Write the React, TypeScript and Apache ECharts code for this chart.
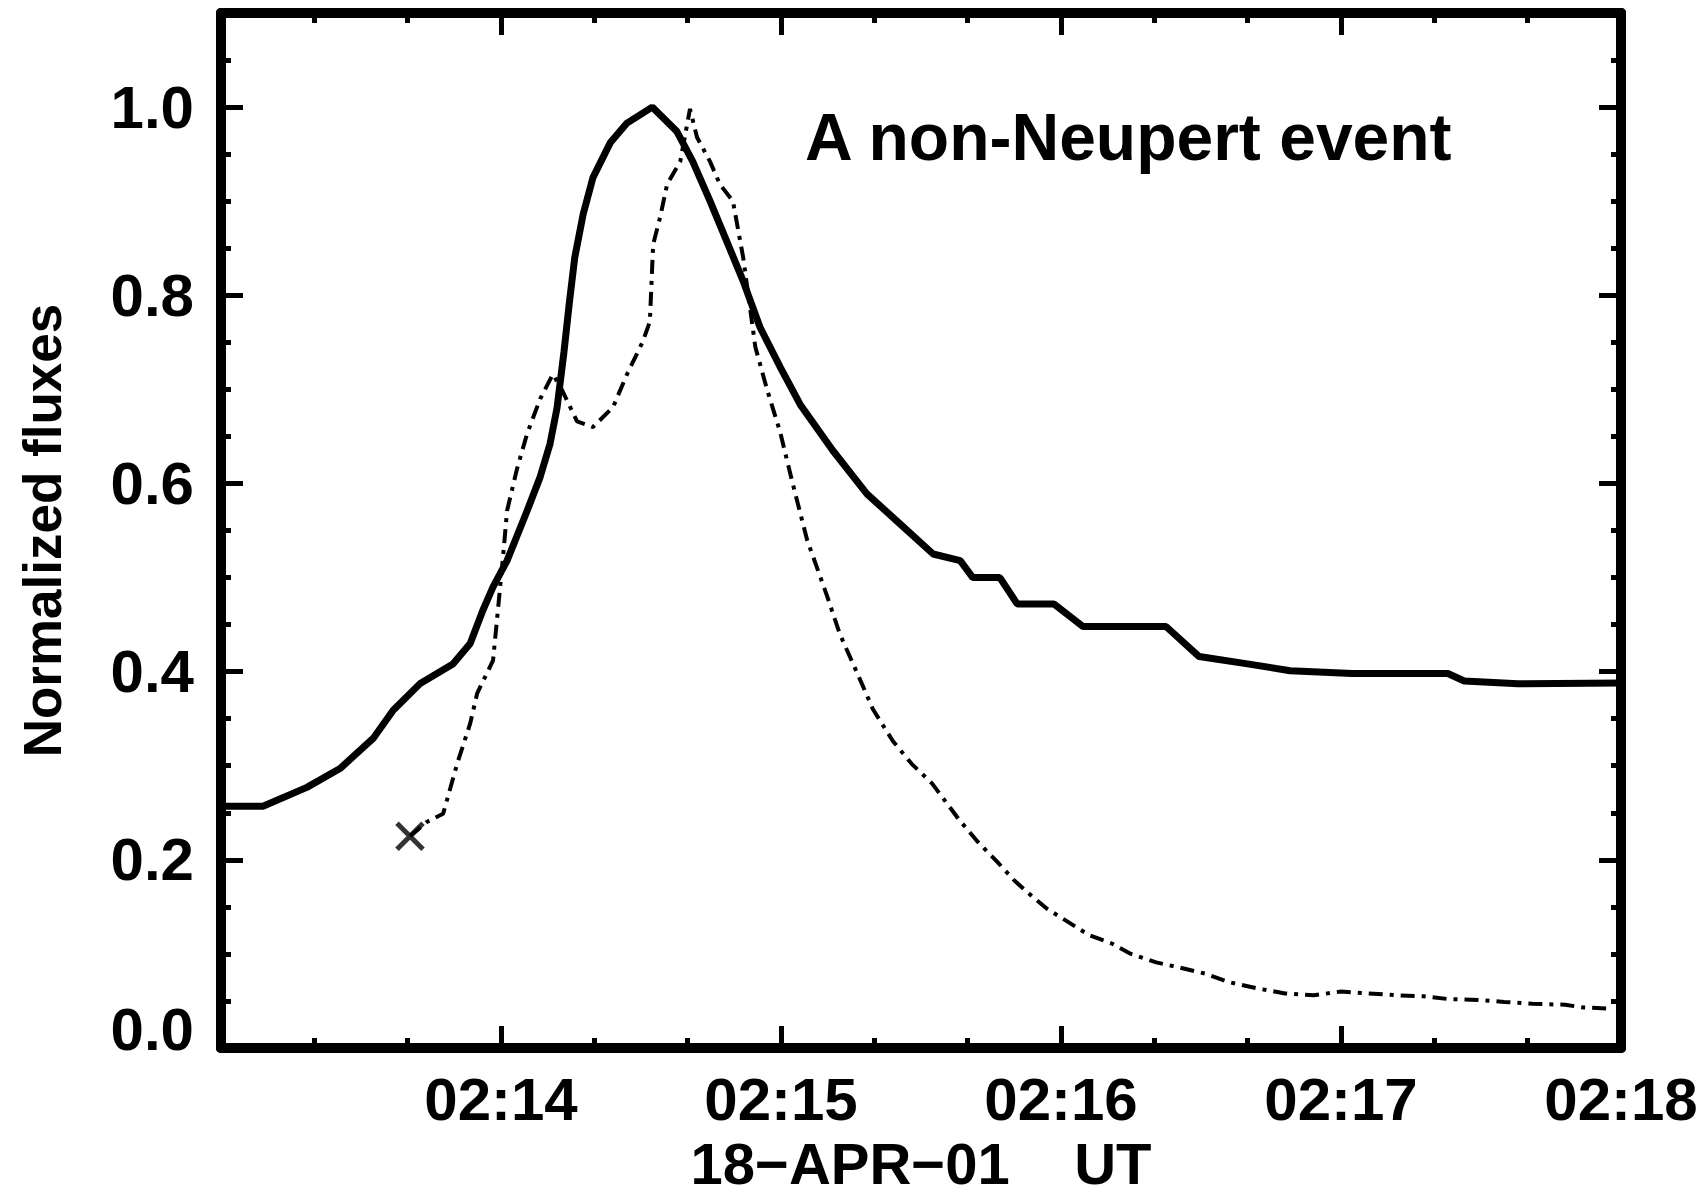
import React, { useEffect, useRef } from "react";
import * as echarts from "echarts";

// seconds after 02:13:00 UT, normalized flux
const solidTime = [0, 9, 18.4, 25.5, 32.6, 36.9, 42.6, 49.7, 53.4, 56.1, 58.3, 61.3, 65.6, 68.4, 70.5, 72, 73.5, 74.6, 75.8, 77.6, 79.7, 83.4, 87, 92.4, 97.7, 101.1, 104.8, 108.4, 111.9, 115.5, 119.8, 124.1, 131.1, 138.4, 145.5, 152.6, 158.4, 161.1, 166.9, 170.6, 178.5, 184.7, 202.5, 209.6, 220.3, 229.1, 242.4, 262.9, 266.4, 277.9, 300];
const solidFlux = [0.257, 0.257, 0.277, 0.297, 0.329, 0.359, 0.387, 0.408, 0.43, 0.465, 0.49, 0.518, 0.571, 0.607, 0.642, 0.68, 0.74, 0.79, 0.84, 0.886, 0.925, 0.962, 0.983, 1.0, 0.974, 0.942, 0.9, 0.857, 0.815, 0.766, 0.724, 0.684, 0.635, 0.589, 0.557, 0.525, 0.518, 0.5, 0.5, 0.472, 0.472, 0.448, 0.448, 0.416, 0.408, 0.401, 0.398, 0.398, 0.39, 0.387, 0.388];

const dashTime = [40.5, 44, 47.6, 50.6, 53.4, 54.9, 58.3, 60.4, 61.3, 63.4, 65.6, 68.4, 71.1, 73, 76.3, 79.7, 84, 87, 90.4, 91.9, 92.6, 94.1, 95.6, 98.4, 100.5, 102, 104.8, 106.9, 109.7, 111.9, 113, 114.5, 117, 119.8, 122.5, 125.6, 129.9, 132.6, 136.9, 139.7, 144, 148, 152.4, 158.1, 162, 166.3, 170, 173.4, 177, 181.5, 186, 190.9, 195, 200.4, 205, 210.9, 216, 222.4, 228, 234.2, 240, 246, 252, 257.6, 263, 269.4, 275, 281, 288, 292, 297.4];
const dashFlux = [0.225, 0.24, 0.249, 0.302, 0.345, 0.377, 0.412, 0.52, 0.571, 0.615, 0.653, 0.69, 0.716, 0.7, 0.666, 0.66, 0.681, 0.716, 0.751, 0.772, 0.854, 0.883, 0.918, 0.942, 0.998, 0.968, 0.942, 0.918, 0.9, 0.84, 0.8, 0.745, 0.7, 0.655, 0.6, 0.54, 0.48, 0.44, 0.392, 0.36, 0.326, 0.302, 0.281, 0.243, 0.22, 0.198, 0.178, 0.163, 0.148, 0.134, 0.12, 0.111, 0.1, 0.091, 0.086, 0.079, 0.07, 0.063, 0.058, 0.056, 0.06, 0.058, 0.056, 0.055, 0.052, 0.051, 0.049, 0.047, 0.046, 0.043, 0.042];

const xTickLabels = ["", "02:14", "02:15", "02:16", "02:17", "02:18"];
const xTitle = "18\u2212APR\u221201\u00a0\u00a0\u00a0\u00a0UT";
const yTitle = "Normalized fluxes";
const annotation = "A non-Neupert event";

const FONT = "'Liberation Sans', Arial, Helvetica, sans-serif";

export default function App() {
  const ref = useRef<HTMLDivElement>(null);
  useEffect(() => {
    if (!ref.current) return;
    const chart = echarts.init(ref.current, undefined, { renderer: "svg" });
    const grid = { left: 221, right: 85, top: 13, bottom: 144 };
    const lineW = 10;
    const common = {
      type: "value" as const,
      axisLine: { show: true, onZero: false, lineStyle: { color: "#000", width: lineW } },
      splitLine: { show: false },
    };
    const xMajor = (pos: string, labels: boolean) => ({
      ...common,
      position: pos,
      min: 0,
      max: 300,
      interval: 60,
      axisTick: { show: true, inside: true, length: 22, lineStyle: { color: "#000", width: 5 } },
      minorTick: { show: true, splitNumber: 3, length: 10, lineStyle: { color: "#000", width: 5 } },
      axisLabel: labels
        ? {
            show: true,
            margin: 21,
            color: "#000",
            fontSize: 60,
            fontWeight: "bold",
            fontFamily: FONT,
            showMaxLabel: true,
            formatter: (v: number) => xTickLabels[Math.round(v / 60)] ?? "",
          }
        : { show: false },
    });
    const yAxisDef = (pos: string, interval: number, tickLen: number, labels: boolean) => ({
      ...common,
      position: pos,
      min: 0,
      max: 1.1,
      interval,
      axisTick: { show: true, inside: true, length: tickLen, lineStyle: { color: "#000", width: 5 } },
      axisLabel: labels
        ? {
            show: true,
            margin: 27,
            color: "#000",
            fontSize: 60,
            fontWeight: "bold",
            fontFamily: FONT,
            showMaxLabel: false,
            formatter: (v: number) => {
              if (Math.abs(v) < 1e-9) return "{z|0.0}";
              if (Math.abs(v * 5 - Math.round(v * 5)) < 1e-6 && v <= 1.0001) return v.toFixed(1);
              return "";
            },
            rich: {
              z: { fontSize: 60, fontWeight: "bold", fontFamily: FONT, color: "#000", padding: [0, 0, 38, 0] },
            },
          }
        : { show: false },
      ...(labels
        ? {
            name: yTitle,
            nameLocation: "middle",
            nameGap: 152,
            nameRotate: 90,
            nameTextStyle: { color: "#000", fontSize: 53, fontWeight: "bold", fontFamily: FONT },
          }
        : {}),
    });

    const xBottom: any = xMajor("bottom", true);
    xBottom.name = xTitle;
    xBottom.nameLocation = "middle";
    xBottom.nameGap = 86;
    xBottom.nameTextStyle = { color: "#000", fontSize: 58, fontWeight: "bold", fontFamily: FONT };

    chart.setOption({
      animation: false,
      backgroundColor: "#fff",
      grid,
      xAxis: [xBottom, xMajor("top", false)],
      yAxis: [
        yAxisDef("left", 0.2, 22, true),
        yAxisDef("right", 0.2, 22, false),
        yAxisDef("left", 0.05, 10, false),
        yAxisDef("right", 0.05, 10, false),
      ],
      graphic: [
        {
          type: "text",
          left: 805,
          top: 104,
          style: { text: annotation, fill: "#000", fontSize: 66, fontWeight: "bold", fontFamily: FONT },
        },
      ],
      series: [
        {
          type: "line",
          xAxisIndex: 0,
          yAxisIndex: 0,
          showSymbol: false,
          data: solidTime.map((t, i) => [t, solidFlux[i]]),
          lineStyle: { color: "#000", width: 7 },
          z: 3,
        },
        {
          type: "line",
          xAxisIndex: 0,
          yAxisIndex: 0,
          showSymbol: false,
          data: dashTime.map((t, i) => [t, dashFlux[i]]),
          lineStyle: { color: "#000", width: 4, type: [14, 7, 4, 7] },
          z: 2,
        },
        {
          type: "scatter",
          xAxisIndex: 0,
          yAxisIndex: 0,
          symbol: "path://M0,0L10,10M10,0L0,10",
          symbolSize: 26,
          data: [[dashTime[0], dashFlux[0]]],
          itemStyle: { color: "none", borderColor: "#000", borderWidth: 5 },
          z: 4,
        },
      ],
    });
    return () => chart.dispose();
  }, []);
  return (
    <div
      ref={ref}
      style={{ position: "fixed", left: 0, top: 0, width: 1706, height: 1197, background: "#fff" }}
    />
  );
}
